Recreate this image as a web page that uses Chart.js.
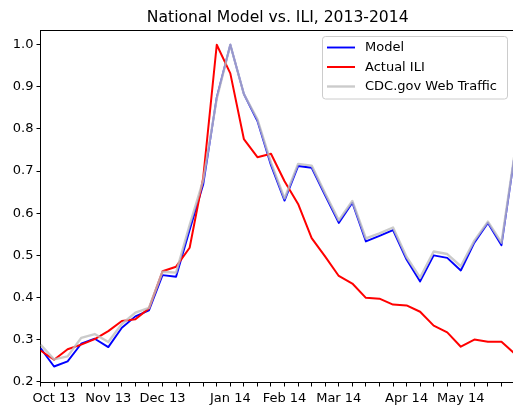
<!DOCTYPE html>
<html>
<head>
<meta charset="utf-8">
<script src="https://cdn.jsdelivr.net/npm/chart.js@4"></script>
<style>
html,body{margin:0;padding:0;background:#fff;}
#wrap{width:513px;height:408px;position:relative;}
</style>
</head>
<body>
<div id="wrap"><canvas id="c" width="513" height="408"></canvas></div>
<script>
// Weekly points, starting week of 2013-09-29
const weekIndex = [0,1,2,3,4,5,6,7,8,9,10,11,12,13,14,15,16,17,18,19,20,21,22,23,24,25,26,27,28,29,30,31,32,33,34,35];
const model = [0.280,0.236,0.248,0.290,0.302,0.282,0.328,0.355,0.369,0.453,0.449,0.560,0.668,0.875,1.000,0.883,0.819,0.714,0.630,0.712,0.708,0.642,0.577,0.625,0.533,0.546,0.560,0.490,0.438,0.500,0.494,0.464,0.530,0.577,0.524,0.745];
const actualILI = [0.274,0.252,0.277,0.288,0.301,0.320,0.344,0.348,0.374,0.462,0.473,0.518,0.684,1.000,0.932,0.776,0.733,0.741,0.676,0.622,0.541,0.497,0.451,0.433,0.399,0.397,0.383,0.381,0.366,0.333,0.317,0.283,0.300,0.295,0.295,0.266];
const webTraffic = [0.288,0.253,0.260,0.304,0.313,0.294,0.337,0.364,0.375,0.461,0.459,0.572,0.678,0.872,1.000,0.883,0.823,0.720,0.635,0.717,0.713,0.647,0.583,0.629,0.540,0.552,0.566,0.496,0.447,0.509,0.503,0.474,0.535,0.580,0.530,0.748];
// x tick labels (one per weekly tick 0..34)
const xTickLabels = ['', 'Oct 13', '', '', '', 'Nov 13', '', '', '', 'Dec 13', '', '', '', '', 'Jan 14', '', '', '', 'Feb 14', '', '', '', 'Mar 14', '', '', '', '', 'Apr 14', '', '', '', 'May 14', '', '', ''];
const yTicks = [0.2,0.3,0.4,0.5,0.6,0.7,0.8,0.9,1.0];
const seriesNames = ['Model', 'Actual ILI', 'CDC.gov Web Traffic'];
const seriesColors = ['#0000ff', '#ff0000', 'rgba(190,190,190,0.8)'];
const titleText = 'National Model vs. ILI, 2013-2014';

const FONT = "'DejaVu Sans', sans-serif";
const toPts = arr => arr.map((v, i) => ({x: weekIndex[i], y: v}));

const overlay = {
  id: 'overlay',
  afterDraw(chart) {
    const ctx = chart.ctx, a = chart.chartArea;
    ctx.save();
    // top spine
    ctx.strokeStyle = '#000';
    ctx.lineWidth = 1;
    ctx.beginPath();
    ctx.moveTo(a.left - 0.5, Math.round(a.top) + 0.5);
    ctx.lineTo(a.right, Math.round(a.top) + 0.5);
    ctx.stroke();
    // title
    ctx.fillStyle = '#000';
    ctx.font = '15.6px ' + FONT;
    ctx.textAlign = 'center';
    ctx.textBaseline = 'alphabetic';
    ctx.fillText(titleText, (a.left + a.right) / 2 + 1, 22);
    // legend
    const bx = 322.5, by = 36.5, bw = 185, bh = 62.5, r = 3;
    ctx.beginPath();
    ctx.moveTo(bx + r, by);
    ctx.lineTo(bx + bw - r, by);
    ctx.quadraticCurveTo(bx + bw, by, bx + bw, by + r);
    ctx.lineTo(bx + bw, by + bh - r);
    ctx.quadraticCurveTo(bx + bw, by + bh, bx + bw - r, by + bh);
    ctx.lineTo(bx + r, by + bh);
    ctx.quadraticCurveTo(bx, by + bh, bx, by + bh - r);
    ctx.lineTo(bx, by + r);
    ctx.quadraticCurveTo(bx, by, bx + r, by);
    ctx.closePath();
    ctx.fillStyle = 'rgba(255,255,255,0.8)';
    ctx.fill();
    ctx.strokeStyle = '#cccccc';
    ctx.stroke();
    const rows = [47.5, 67, 86.5];
    const widths = [1.9, 2.0, 2.4];
    ctx.font = '13px ' + FONT;
    ctx.textAlign = 'left';
    ctx.textBaseline = 'middle';
    for (let i = 0; i < 3; i++) {
      ctx.strokeStyle = seriesColors[i];
      ctx.lineWidth = widths[i];
      ctx.beginPath();
      ctx.moveTo(327, rows[i]);
      ctx.lineTo(355, rows[i]);
      ctx.stroke();
      ctx.fillStyle = '#000';
      ctx.fillText(seriesNames[i], 365, rows[i] + 0.5);
    }
    ctx.restore();
  }
};

new Chart(document.getElementById('c'), {
  type: 'line',
  data: {
    datasets: [
      {label: seriesNames[0], data: toPts(model), borderColor: seriesColors[0], borderWidth: 1.9, order: 2},
      {label: seriesNames[1], data: toPts(actualILI), borderColor: seriesColors[1], borderWidth: 2.0, order: 1},
      {label: seriesNames[2], data: toPts(webTraffic), borderColor: seriesColors[2], borderWidth: 2.4, order: 0}
    ]
  },
  options: {
    responsive: false,
    animation: false,
    events: [],
    layout: {padding: {top: 30, right: 0, left: 0, bottom: 0}, autoPadding: false},
    elements: {point: {radius: 0}, line: {tension: 0, fill: false, borderJoinStyle: 'round'}},
    plugins: {legend: {display: false}, title: {display: false}, tooltip: {enabled: false}},
    scales: {
      x: {
        type: 'linear',
        min: 0,
        max: 34.85,
        afterBuildTicks: s => { s.ticks = xTickLabels.map((_, i) => ({value: i})); },
        afterFit: s => { s.height = 25.5; },
        ticks: {
          autoSkip: false, maxRotation: 0, minRotation: 0, padding: 4,
          color: '#000', font: {family: FONT, size: 13},
          callback: (v, i) => xTickLabels[i] || ''
        },
        grid: {drawOnChartArea: false, drawTicks: true, tickLength: 4, tickColor: '#000', tickWidth: 1},
        border: {display: true, color: '#000', width: 1}
      },
      y: {
        type: 'linear',
        min: 0.198,
        max: 1.035,
        afterBuildTicks: s => { s.ticks = yTicks.map(v => ({value: v})); },
        afterFit: s => { s.width = 40.5; },
        ticks: {
          padding: 3, color: '#000', font: {family: FONT, size: 13},
          callback: v => Number(v).toFixed(1)
        },
        grid: {drawOnChartArea: false, drawTicks: true, tickLength: 4, tickColor: '#000', tickWidth: 1},
        border: {display: true, color: '#000', width: 1}
      }
    }
  },
  plugins: [overlay]
});
</script>
</body>
</html>
